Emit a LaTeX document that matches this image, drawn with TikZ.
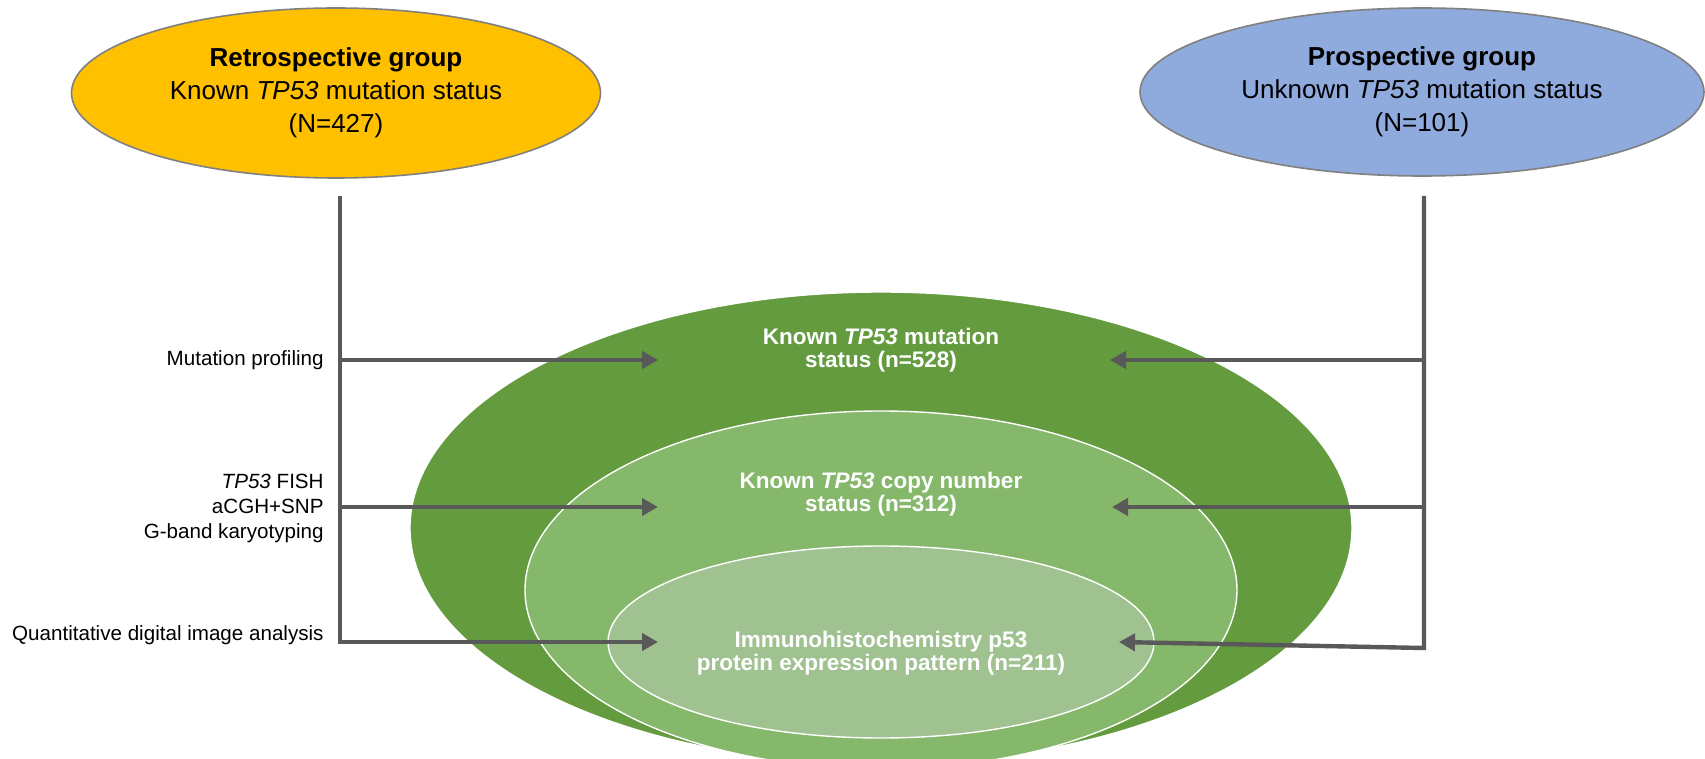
\documentclass[tikz,border=0pt]{standalone}
\usepackage{fontspec}
\setmainfont{Liberation Sans}
\usepackage{xcolor}
\usepackage{tikz}
\usetikzlibrary{shapes.geometric, arrows.meta, positioning}
\definecolor{retroyellow}{RGB}{255, 192, 0}
\definecolor{prosblue}{RGB}{143, 170, 220}
\definecolor{outergreen}{RGB}{99, 155, 62}
\definecolor{midgreen}{RGB}{133, 184, 106}
\definecolor{innergreen}{RGB}{160, 194, 145}
\definecolor{linegray}{RGB}{89, 89, 89}
\definecolor{rimgray}{RGB}{128, 128, 128}

\begin{document}
\begin{tikzpicture}[x=0.5pt, y=-0.5pt,
    group/.style={ellipse, draw=rimgray, line width=0.8pt, align=center, inner sep=0pt,
                  font=\fontsize{13}{16.5}\selectfont},
    set/.style={ellipse, draw=white, line width=0.7pt, inner sep=0pt},
    setlabel/.style={text=white, align=center, inner sep=0pt,
                     font=\bfseries\fontsize{11.25}{11.5}\selectfont},
    method/.style={anchor=east, align=right, inner sep=0pt,
                   font=\fontsize{10.3}{12.5}\selectfont},
    flow/.style={draw=linegray, line width=2.2pt, line join=miter,
                 -{Triangle[length=8pt, width=8.5pt]}}
]
    \useasboundingbox (0,0) rectangle (1705,759);
    \clip (0,0) rectangle (1705,759);

    % patient groups
    \node[group, fill=retroyellow, minimum width=264.5pt, minimum height=85pt] (retro) at (336,93)
        {\textbf{Retrospective group}\\Known \textit{TP53} mutation status\\(N=427)};
    \node[group, fill=prosblue, minimum width=282pt, minimum height=84pt] (pros) at (1422,92)
        {\textbf{Prospective group}\\Unknown \textit{TP53} mutation status\\(N=101)};

    % nested sets
    \node[set, fill=outergreen, minimum width=471pt, minimum height=236pt] (mutset) at (881,528) {};
    \node[set, fill=midgreen, minimum width=356pt, minimum height=179pt] (cnset) at (881,590) {};
    \node[set, fill=innergreen, minimum width=273pt, minimum height=96pt] (ihcset) at (881,642) {};

    \node[setlabel] (mutlabel) at (881,350) {Known \textit{TP53} mutation\\status (n=528)};
    \node[setlabel] (cnlabel) at (881,494) {Known \textit{TP53} copy number\\status (n=312)};
    \node[setlabel] (ihclabel) at (881,653) {Immunohistochemistry p53\\protein expression pattern (n=211)};

    % methods
    \node[method] (mutprof) at (324,360) {Mutation profiling};
    \node[method] (cnmethods) at (324,508) {\textit{TP53} FISH\\aCGH+SNP\\G-band karyotyping};
    \node[method] (qdia) at (324,635) {Quantitative digital image analysis};

    % junctions
    \coordinate (ltop) at (340,196);
    \coordinate (lmut) at (340,360);
    \coordinate (lcn) at (340,507);
    \coordinate (rtop) at (1424,196);
    \coordinate (rmut) at (1424,360);
    \coordinate (rcn) at (1424,507);
    \coordinate (rbot) at (1424,648);
    \coordinate (mutin) at (658,360);
    \coordinate (cnin) at (658,507);
    \coordinate (ihcin) at (658,642);
    \coordinate (mutinr) at (1110,360);
    \coordinate (cninr) at (1112,507);
    \coordinate (ihcinr) at (1119,642);

    \draw[flow] (ltop) |- (ihcin);
    \draw[flow] (lmut) -- (mutin);
    \draw[flow] (lcn) -- (cnin);
    \draw[flow] (rtop) -- (rbot) -- (ihcinr);
    \draw[flow] (rmut) -- (mutinr);
    \draw[flow] (rcn) -- (cninr);
\end{tikzpicture}
\end{document}
